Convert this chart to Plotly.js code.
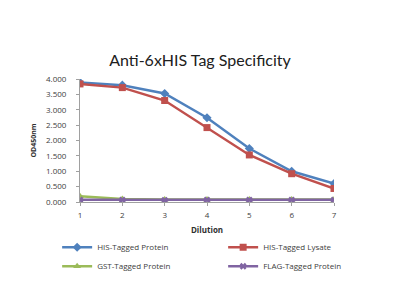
<!DOCTYPE html>
<html><head><meta charset="utf-8">
<script src="https://cdn.plot.ly/plotly-3.0.1.min.js"></script>
<style>html,body{margin:0;padding:0;background:#fff}#chart{width:400px;height:288px}</style>
</head><body><div id="chart"></div>
<script>
const dilution = [1, 2, 3, 4, 5, 6, 7];
const hisProtein = [3.89, 3.80, 3.53, 2.74, 1.74, 1.00, 0.60];
const hisLysate = [3.84, 3.72, 3.30, 2.42, 1.53, 0.92, 0.44];
const gstProtein = [0.19, 0.10, 0.08, 0.08, 0.08, 0.08, 0.08];
const flagProtein = [0.07, 0.07, 0.06, 0.07, 0.07, 0.07, 0.07];
const yTicks = [0, 0.5, 1, 1.5, 2, 2.5, 3, 3.5, 4];

function tr(name, y, color, symbol, size) {
  return {x: dilution, y: y, name: name, type: 'scatter', mode: 'lines+markers',
    line: {color: color, width: 2.5}, marker: {color: color, symbol: symbol, size: size}};
}
const data = [
  tr('HIS-Tagged Protein', hisProtein, '#4F81BD', 'diamond', 7),
  tr('HIS-Tagged Lysate', hisLysate, '#C0504D', 'square', 7),
  tr('GST-Tagged Protein', gstProtein, '#9BBB59', 'triangle-up', 7),
  tr('FLAG-Tagged Protein', flagProtein, '#8064A2', 'x', 6)
];
const layout = {
  width: 400, height: 288,
  margin: {l: 80, r: 66, t: 79, b: 86, autoexpand: false},
  paper_bgcolor: '#fff', plot_bgcolor: '#fff',
  font: {family: 'Open Sans, sans-serif', color: '#404040', size: 8},
  title: {text: 'Anti-6xHIS Tag Specificity', x: 0.5, xanchor: 'center', y: 0.79, yanchor: 'middle',
    font: {family: 'Lato, sans-serif', size: 16, color: '#202020'}},
  xaxis: {range: [1, 7], tickvals: dilution, ticktext: dilution.map(String),
    showgrid: false, zeroline: false, showline: true, linecolor: '#A0A0A0', linewidth: 1,
    ticks: 'outside', ticklen: 3, tickcolor: '#A0A0A0', ticklabelstandoff: 2,
    tickfont: {size: 8, color: '#404040'},
    title: {text: '<b>Dilution</b>', font: {size: 8, color: '#303030'}, standoff: 8}},
  yaxis: {range: [0, 4], tickvals: yTicks, ticktext: yTicks.map(v => v.toFixed(3)),
    showgrid: false, zeroline: false, showline: true, linecolor: '#A0A0A0', linewidth: 1,
    ticks: 'outside', ticklen: 3, tickcolor: '#A0A0A0', ticklabelstandoff: 8,
    tickfont: {size: 8, color: '#404040'},
    title: {text: '<b>OD450nm</b>', font: {size: 7, color: '#303030'}, standoff: 8}},
  showlegend: true,
  legend: {orientation: 'h', x: -0.09, xanchor: 'left', y: -0.25, yanchor: 'top',
    entrywidth: 121, entrywidthmode: 'pixels', itemwidth: 30,
    tracegroupgap: 0, font: {size: 8, color: '#404040'}, bgcolor: 'rgba(0,0,0,0)'}
};
Plotly.newPlot('chart', data, layout, {displayModeBar: false, staticPlot: true});
</script></body></html>
